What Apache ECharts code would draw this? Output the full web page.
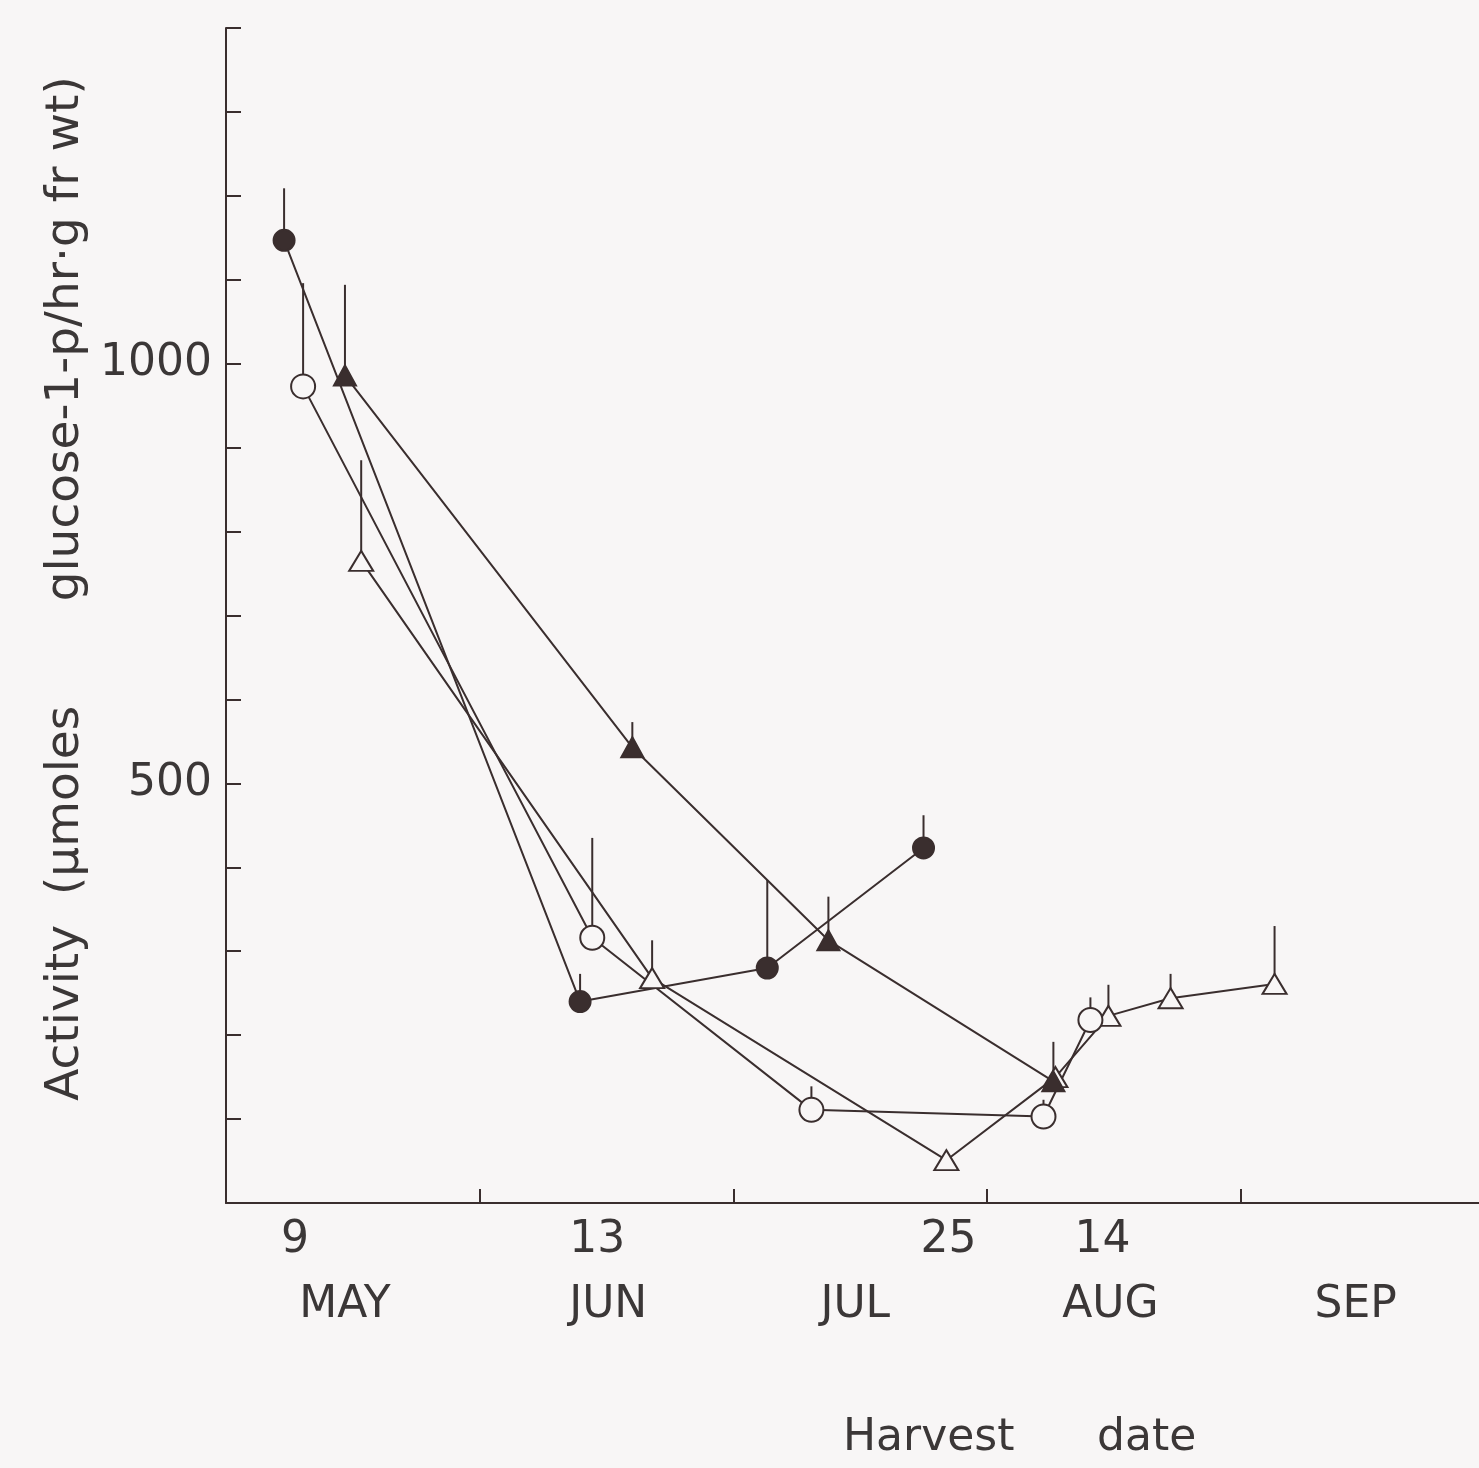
<!DOCTYPE html>
<html>
<head>
<meta charset="utf-8">
<script src="https://cdn.jsdelivr.net/npm/echarts@6/dist/echarts.min.js"></script>
<style>
html,body{margin:0;padding:0;background:#f8f6f6;}
#chart{width:1479px;height:1468px;}
</style>
</head>
<body>
<div id="chart"></div>
<script>
// x values: months after 1 May (1 = 1 Jun, 2 = 1 Jul, 3 = 1 Aug, 4 = 1 Sep)
// y values: activity (µmoles glucose-1-p / hr·g fr wt); "Upper" = top of error bar

// ● filled circles
const filledCircleX     = [0.229, 1.396, 2.134, 2.750];
const filledCircleY     = [1147, 240, 280, 423];
const filledCircleUpper = [1209, 273, 385, 462];

// ○ open circles
const openCircleX     = [0.304, 1.444, 2.308, 3.223, 3.408];
const openCircleY     = [973, 316, 111, 103, 218];
const openCircleUpper = [1096, 435, 139, 123, 245];

// ▲ filled triangles
const filledTriX     = [0.469, 1.602, 2.375, 3.262];
const filledTriY     = [986, 543, 313, 145];
const filledTriUpper = [1094, 573, 365, 192];

// △ open triangles
const openTriX     = [0.533, 1.680, 2.840, 3.270, 3.479, 3.724, 4.134];
const openTriY     = [765, 268, 51, 150, 223, 244, 261];
const openTriUpper = [885, 313, null, null, 260, 273, 330];

// axis tick labels
const monthStarts   = [1, 2, 3, 4];
const dayLabels     = ['9', '13', '25', '14'];
const dayLabelPos   = [0.272, 1.464, 2.848, 3.456];
const monthLabels   = ['MAY', 'JUN', 'JUL', 'AUG', 'SEP'];
const monthLabelPos = [0.469, 1.507, 2.481, 3.487, 4.454];
const yLabelValues  = [500, 1000];

const INK = '#3a2e2e';
const BG = '#f8f6f6';
const TXT = '#3b3737';
const FONT = 'DejaVu Sans';
const XMAX = 4.94;

function pts(xs, ys) { return xs.map((x, i) => [x, ys[i]]); }
function bars(xs, ys, up) {
  return xs.map((x, i) => [x, ys[i], up[i]]).filter(d => d[2] !== null && d[2] !== undefined);
}
function errRender(params, api) {
  const a = api.coord([api.value(0), api.value(1)]);
  const b = api.coord([api.value(0), api.value(2)]);
  return {
    type: 'line',
    shape: { x1: a[0], y1: a[1], x2: b[0], y2: b[1] },
    style: { stroke: INK, lineWidth: 2 }
  };
}
function errSeries(xs, ys, up) {
  return {
    type: 'custom', renderItem: errRender, data: bars(xs, ys, up),
    encode: { x: 0, y: 1 }, z: 1, silent: true
  };
}
function lineSeries(name, xs, ys, symbol, size, filled) {
  return {
    type: 'line', name: name, data: pts(xs, ys),
    symbol: symbol, symbolSize: size, showAllSymbol: true,
    lineStyle: { color: INK, width: 2 },
    itemStyle: { color: filled ? INK : BG, borderColor: INK, borderWidth: 2, opacity: 1 },
    z: 3, silent: true
  };
}

const labelPos = dayLabelPos.concat(monthLabelPos);

const chart = echarts.init(document.getElementById('chart'), null, { renderer: 'canvas' });
chart.setOption({
  animation: false,
  backgroundColor: BG,
  title: [
    { text: 'Harvest', left: 838, top: 1412,
      textStyle: { fontFamily: FONT, fontSize: 44, fontWeight: 'normal', color: TXT } },
    { text: 'date', left: 1092, top: 1412,
      textStyle: { fontFamily: FONT, fontSize: 44, fontWeight: 'normal', color: TXT } }
  ],
  grid: { left: 226, right: 0, top: 28, bottom: 265, containLabel: false, outerBoundsMode: 'none' },
  xAxis: {
    type: 'value', min: 0, max: XMAX, position: 'bottom',
    axisLine: { show: true, onZero: false, lineStyle: { color: INK, width: 2 } },
    axisTick: { show: true, inside: true, length: 14, customValues: monthStarts,
      lineStyle: { color: INK, width: 2 } },
    splitLine: { show: false },
    axisLabel: {
      show: true, customValues: labelPos, margin: 5,
      fontFamily: FONT, fontSize: 44, color: TXT, lineHeight: 65,
      formatter: function (v) {
        let i = dayLabelPos.indexOf(v);
        if (i >= 0) return dayLabels[i];
        i = monthLabelPos.indexOf(v);
        if (i >= 0) return '\n' + monthLabels[i];
        return '';
      }
    }
  },
  yAxis: {
    type: 'value', min: 0, max: 1400, interval: 100,
    name: 'Activity  (µmoles       glucose-1-p/hr·g fr wt)',
    nameLocation: 'middle', nameRotate: 90, nameGap: 136,
    nameTextStyle: { fontFamily: FONT, fontSize: 47, color: TXT, padding: [0, 0, 0, 54] },
    axisLine: { show: true, lineStyle: { color: INK, width: 2 } },
    axisTick: { show: true, inside: true, length: 15, lineStyle: { color: INK, width: 2 } },
    splitLine: { show: false },
    axisLabel: { customValues: yLabelValues, margin: 14, fontFamily: FONT, fontSize: 44, color: TXT,
      formatter: function (v) { return String(v); } }
  },
  series: [
    errSeries(filledCircleX, filledCircleY, filledCircleUpper),
    errSeries(openCircleX, openCircleY, openCircleUpper),
    errSeries(filledTriX, filledTriY, filledTriUpper),
    errSeries(openTriX, openTriY, openTriUpper),
    lineSeries('open triangle', openTriX, openTriY, 'triangle', [24, 20], false),
    lineSeries('open circle', openCircleX, openCircleY, 'circle', 24, false),
    lineSeries('filled circle', filledCircleX, filledCircleY, 'circle', 21, true),
    lineSeries('filled triangle', filledTriX, filledTriY, 'triangle', [22, 20], true)
  ]
});
</script>
</body>
</html>
